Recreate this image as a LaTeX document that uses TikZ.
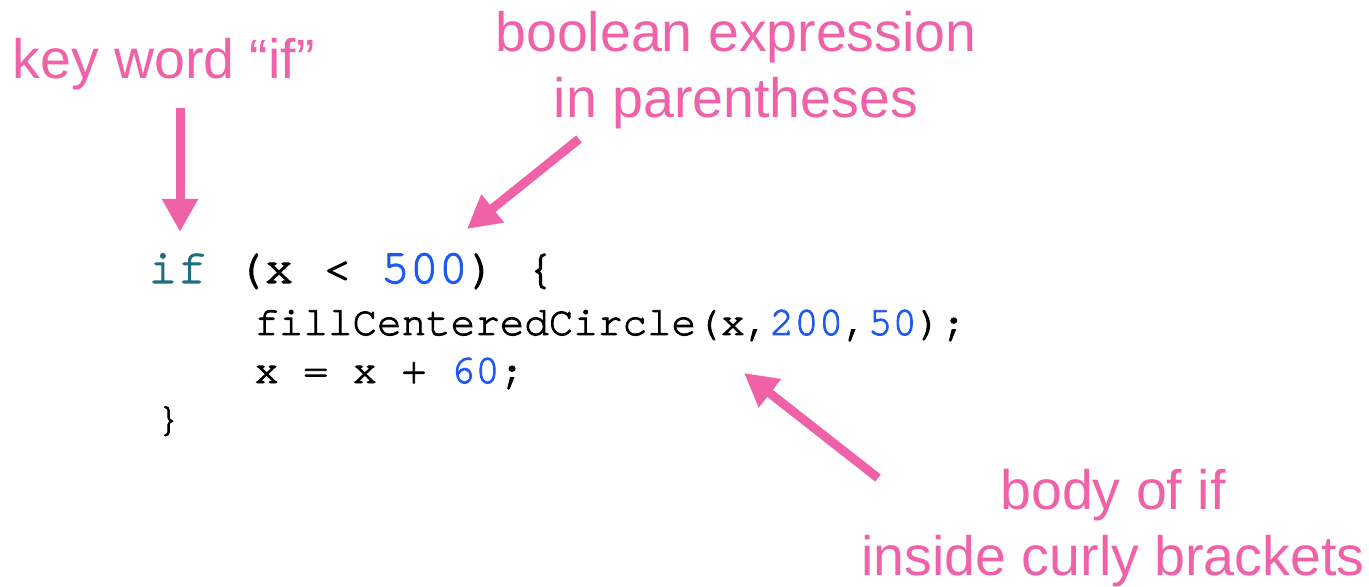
\documentclass[tikz,border=0pt]{standalone}
\usepackage{fontspec}
\usetikzlibrary{arrows.meta}
\newfontfamily\labelfont{Liberation Sans}
\newfontfamily\codefont[FakeBold=2.2, Ligatures=NoCommon]{TeX Gyre Cursor}
\definecolor{notepink}{HTML}{F062A8}
\definecolor{kwteal}{HTML}{1F6E80}
\definecolor{numblue}{HTML}{1E5AF0}
\newcommand{\kw}[1]{\textcolor{kwteal}{#1}}
\newcommand{\num}[1]{\textcolor{numblue}{#1}}
\tikzset{
  note/.style={inner sep=0pt, text=notepink,
    font=\labelfont\fontsize{27.75pt}{33pt}\selectfont},
  codebig/.style={inner sep=0pt, anchor=base west,
    font=\codefont\fontsize{24.2pt}{29pt}\selectfont},
  codesmall/.style={inner sep=0pt, anchor=base west,
    font=\codefont\fontsize{20.45pt}{24pt}\selectfont},
  pointer/.style={draw=notepink, line width=4.5pt,
    -{Triangle[width=17pt,length=16.5pt]}}
}
\begin{document}
\begin{tikzpicture}[x=0.5pt, y=-0.5pt]
  \useasboundingbox (0,0) rectangle (1369,587);

  % annotations
  \node[note, anchor=base west] (kwlabel) at (12,79) {key word “if”};
  \node[note, anchor=base] (condlabel) at (736,52)
    {\begin{tabular}[t]{@{}c@{}}boolean expression\\in parentheses\end{tabular}};
  \node[note, anchor=base] (bodylabel) at (1113,509)
    {\begin{tabular}[t]{@{}c@{}}body of if\\inside curly brackets\end{tabular}};

  % the code fragment
  \node[codebig] (line1) at (148,283)
    {\kw{if} (x < \num{500}) \{};
  \node[codesmall] (line2) at (254,335)
    {fillCenteredCircle(x,\num{200},\num{50});};
  \node[codesmall] (line3) at (254,383) {x = x + \num{60};};
  \node[codesmall] (line4) at (156,431) {\}};

  % arrow end points
  \coordinate (kwtail) at (180,108);
  \coordinate (kwtip)  at (180,232);
  \coordinate (condtail) at (579,139);
  \coordinate (condtip)  at (467,229);
  \coordinate (bodytail) at (878,478);
  \coordinate (bodytip)  at (744,373);

  \draw[pointer] (kwtail) -- (kwtip);
  \draw[pointer] (condtail) -- (condtip);
  \draw[pointer] (bodytail) -- (bodytip);
\end{tikzpicture}
\end{document}
